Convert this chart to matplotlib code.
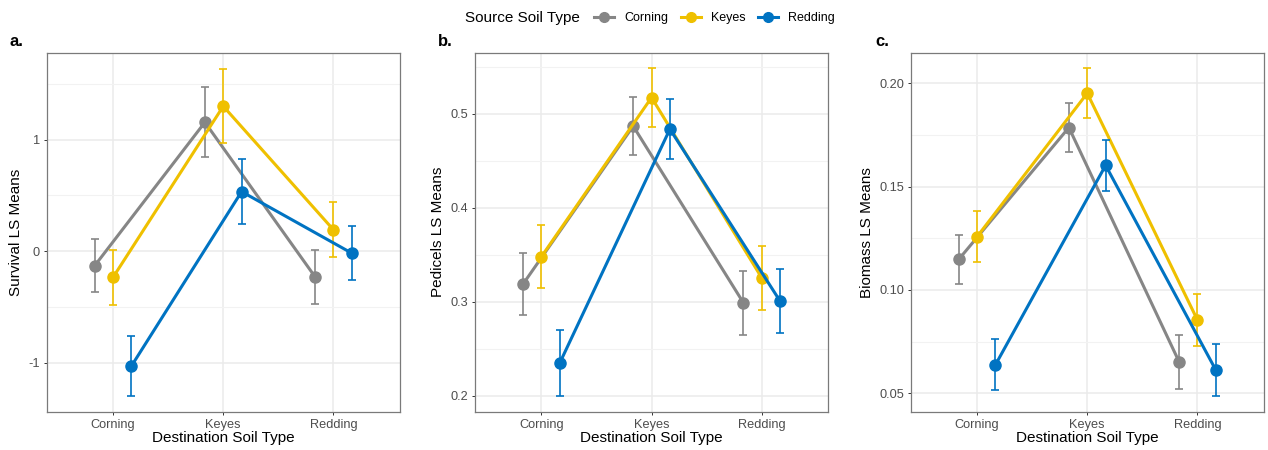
import matplotlib
matplotlib.use("Agg")
import matplotlib.pyplot as plt
from matplotlib.lines import Line2D
from matplotlib.ticker import MultipleLocator

plt.rcParams['font.family'] = ['Liberation Sans', 'DejaVu Sans']

destinations = ["Corning", "Keyes", "Redding"]
sources = ["Corning", "Keyes", "Redding"]
colors = {"Corning": "#868686", "Keyes": "#EFC000", "Redding": "#0073C2"}

# LS means and standard errors, one list per source soil (by destination)
survival_mean = {"Corning": [-0.13, 1.156, -0.23],
                 "Keyes": [-0.234, 1.30, 0.192],
                 "Redding": [-1.03, 0.534, -0.018]}
survival_se = {"Corning": [0.235, 0.315, 0.24],
               "Keyes": [0.245, 0.333, 0.247],
               "Redding": [0.27, 0.29, 0.244]}

pedicels_mean = {"Corning": [0.3188, 0.4869, 0.299],
                 "Keyes": [0.348, 0.5173, 0.3255],
                 "Redding": [0.2348, 0.4837, 0.3007]}
pedicels_se = {"Corning": [0.033, 0.031, 0.034],
               "Keyes": [0.0335, 0.031, 0.034],
               "Redding": [0.035, 0.032, 0.034]}

biomass_mean = {"Corning": [0.1148, 0.1786, 0.0653],
                "Keyes": [0.1258, 0.1952, 0.0855],
                "Redding": [0.0638, 0.1603, 0.0613]}
biomass_se = {"Corning": [0.012, 0.012, 0.013],
              "Keyes": [0.0124, 0.012, 0.0125],
              "Redding": [0.0124, 0.0123, 0.0125]}

panels = [
    ("a.", "Survival LS Means", survival_mean, survival_se, (-1.44, 1.78), 1.0, "%g"),
    ("b.", "Pedicels LS Means", pedicels_mean, pedicels_se, (0.183, 0.565), 0.1, "%.1f"),
    ("c.", "Biomass LS Means", biomass_mean, biomass_se, (0.0411, 0.2148), 0.05, "%.2f"),
]
lefts = [47, 475.3, 911]
label_x = [10, 438, 875]

W, H = 1268, 450
fig = plt.figure(figsize=(W / 100, H / 100), dpi=100)

dodge = 0.5 / 3
tick_col = "#4d4d4d"

for (tag, ylab, means, ses, ylim, step, fmt), left, lx in zip(panels, lefts, label_x):
    ax = fig.add_axes([left / W, 1 - 411.7 / H, 352.5 / W, 359 / H])
    ax.set_facecolor("white")
    for i, src in enumerate(sources):
        xs = [j + 1 + (i - 1) * dodge for j in range(len(destinations))]
        c = colors[src]
        ax.errorbar(xs, means[src], yerr=ses[src], fmt="none", ecolor=c,
                    elinewidth=1.2, capsize=2.6, capthick=1.2, zorder=3 + i)
        ax.plot(xs, means[src], color=c, lw=2.2, marker="o", ms=8,
                zorder=3 + i, solid_capstyle="butt")
    ax.set_xlim(0.4, 3.6)
    ax.set_ylim(*ylim)
    ax.set_xticks([1, 2, 3])
    ax.set_xticklabels(destinations)
    ax.yaxis.set_major_locator(MultipleLocator(step))
    ax.yaxis.set_minor_locator(MultipleLocator(step / 2))
    ax.yaxis.set_major_formatter(matplotlib.ticker.FormatStrFormatter(fmt))
    ax.grid(True, which="major", color="#ebebeb", lw=1.1, zorder=0)
    ax.grid(True, which="minor", axis="y", color="#f2f2f2", lw=0.8, zorder=0)
    ax.set_axisbelow(True)
    ax.tick_params(which="major", length=2.5, width=0.7, color="#333333",
                   labelsize=9.2, labelcolor=tick_col, pad=2.5)
    ax.tick_params(which="minor", length=0)
    for s in ax.spines.values():
        s.set_color("#7a7a7a")
        s.set_linewidth(0.9)
    ax.set_xlabel("Destination Soil Type", fontsize=11, labelpad=0)
    ax.set_ylabel(ylab, fontsize=11, labelpad=4)
    fig.text(lx / W, 1 - 42 / H, tag, fontsize=12, fontweight="bold",
             va="center", ha="left")

# legend across the top
fig.text(465 / W, 1 - 18 / H, "Source Soil Type", fontsize=11, va="center", ha="left")
handles = [Line2D([], [], color=colors[s], lw=2.2, marker="o", ms=7) for s in sources]
fig.legend(handles, sources, loc="center left", bbox_to_anchor=(594 / W, 1 - 18 / H),
           ncol=3, frameon=False, fontsize=9.0, handlelength=1.6, handletextpad=0.8,
           columnspacing=1.0, borderpad=0, borderaxespad=0)

fig.savefig("out.png", dpi=100, facecolor="white")
